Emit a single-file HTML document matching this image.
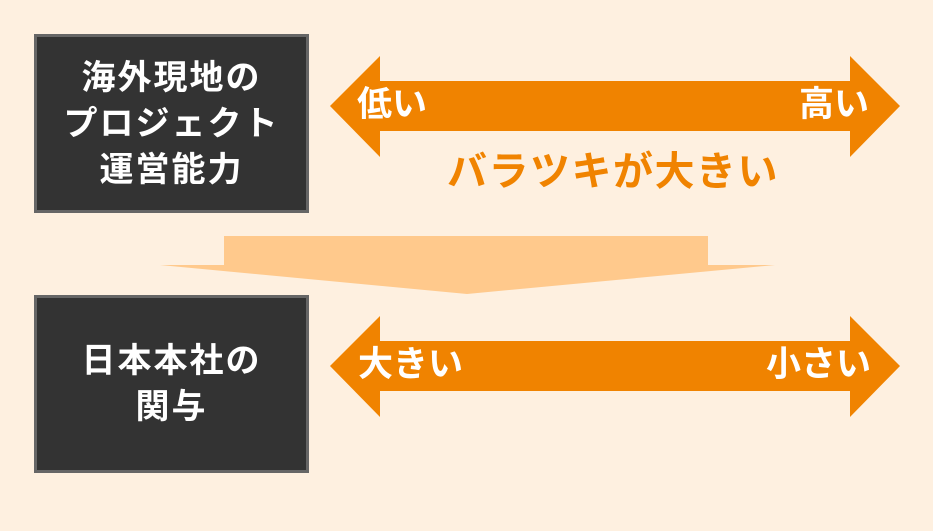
<!DOCTYPE html>
<html><head><meta charset="utf-8"><style>
body{margin:0;width:933px;height:531px;background:#fef0e0;position:relative;overflow:hidden;font-family:"Liberation Sans","Noto Sans CJK JP",sans-serif;font-weight:bold}
.box{position:absolute;left:34px;width:269px;background:#333;border:3px solid #666;color:#fff;font-size:34px;line-height:46px;text-align:center;display:flex;align-items:center;justify-content:center;letter-spacing:2px}
.t{position:absolute;color:#fff;font-size:35px;line-height:1;white-space:nowrap}
</style></head><body>
<div class="box" style="top:34px;height:173px">海外現地の<br>プロジェクト<br>運営能力</div>
<div class="box" style="top:295px;height:172px">日本本社の<br>関与</div>
<svg width="933" height="531" style="position:absolute;left:0;top:0">
<polygon points="330,106 380,56 380,81 850,81 850,56 900,106 850,157 850,131 380,131 380,157" fill="#f08300"/>
<polygon points="330,366 380,316 380,341 850,341 850,316 900,366 850,417 850,391 380,391 380,417" fill="#f08300"/>
<polygon points="224,236 708,236 708,265 775,265 467,294 160,265 224,265" fill="#ffc98c"/>
</svg>
<div class="t" style="left:357px;top:87px">低い</div>
<div class="t" style="right:64px;top:87px">高い</div>
<div class="t" style="left:358px;top:347px">大きい</div>
<div class="t" style="right:62px;top:347px">小さい</div>
<div style="position:absolute;left:447px;top:149px;color:#f08300;font-size:40px;line-height:46px;letter-spacing:1.5px;white-space:nowrap">バラツキが大きい</div>
</body></html>
